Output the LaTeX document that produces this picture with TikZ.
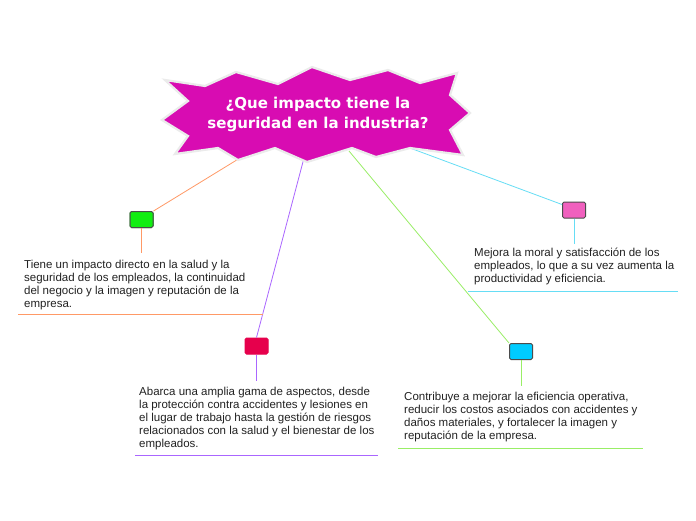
\documentclass[tikz,border=0pt]{standalone}
\usepackage{fontspec}
\setmainfont{Liberation Sans}
\newfontfamily\titlefont{DejaVu Sans}
\definecolor{starfill}{HTML}{D80CB2}
\definecolor{cOrange}{HTML}{FF9966}
\definecolor{cPurple}{HTML}{AA66FF}
\definecolor{cCyan}{HTML}{66DDF5}
\definecolor{cGreen}{HTML}{99EE66}
\definecolor{bGreen}{HTML}{11EE11}
\definecolor{bRed}{HTML}{E6004C}
\definecolor{bPink}{HTML}{F060BE}
\definecolor{bCyan}{HTML}{00CCFF}
\definecolor{txt}{HTML}{222222}
\begin{document}
\begin{tikzpicture}[x=1pt,y=-1pt,
  conn/.style={line width=0.8pt},
  uline/.style={line width=1pt},
  topicbox/.style={draw=#1!60!black, line width=1pt, rounded corners=1.5pt, minimum width=23pt, minimum height=16pt, inner sep=0pt},
  desc/.style={anchor=north west, inner sep=0pt, align=left, text=txt, font=\fontsize{11.5}{13}\selectfont},
  starshape/.style={fill=starfill, draw=black!8, line width=2.2pt, line join=miter}
]
\fill[white] (0,0) rectangle (696,520);
\useasboundingbox (0,0) rectangle (696,520);

% star edge coordinates
\coordinate (sO) at (240,158);
\coordinate (sP) at (304,158);
\coordinate (sG) at (349,151);
\coordinate (sC) at (410,148);

% topic boxes
\node[topicbox=bGreen, fill=bGreen] (gbox) at (141.5,219.5) {};
\node[topicbox=bRed, fill=bRed, draw=bRed] (rbox) at (256.5,346) {};
\node[topicbox=bPink, fill=bPink, draw=black!70] (pbox) at (574,210) {};
\node[topicbox=bCyan, fill=bCyan, draw=black!70] (cbox) at (521,351.5) {};
\node[topicbox=bGreen, fill=bGreen, draw=black!70] at (gbox) {};

% descriptions
\node[desc] (tO) at (24,259.5) {Tiene un impacto directo en la salud y la\\seguridad de los empleados, la continuidad\\del negocio y la imagen y reputación de la\\empresa.};
\node[desc] (tP) at (139,386.5) {Abarca una amplia gama de aspectos, desde\\la protección contra accidentes y lesiones en\\el lugar de trabajo hasta la gestión de riesgos\\relacionados con la salud y el bienestar de los\\empleados.};
\node[desc] (tC) at (474,248) {Mejora la moral y satisfacción de los\\empleados, lo que a su vez aumenta la\\productividad y eficiencia.};
\node[desc] (tG) at (404,391.5) {Contribuye a mejorar la eficiencia operativa,\\reducir los costos asociados con accidentes y\\daños materiales, y fortalecer la imagen y\\reputación de la empresa.};

% line ends
\coordinate (vO) at (141.5,253);
\coordinate (vP) at (256.5,381);
\coordinate (vC) at (574,244);
\coordinate (vG) at (521,386);
\coordinate (uOa) at (18,314);  \coordinate (uOb) at (263,314);
\coordinate (uPa) at (135,455); \coordinate (uPb) at (378,455);
\coordinate (uCa) at (468,291); \coordinate (uCb) at (678,291);
\coordinate (uGa) at (398,448); \coordinate (uGb) at (643,448);

% connectors
\draw[conn, cOrange] (sO) -- (gbox.north east);
\draw[conn, cPurple] (sP) -- (rbox.north);
\draw[conn, cGreen] (sG) -- (cbox.north west);
\draw[conn, cCyan] (sC) -- ([yshift=-3pt]pbox.north west);
\draw[conn, cOrange] (gbox.south) -- (vO);
\draw[conn, cPurple] (rbox.south) -- (vP);
\draw[conn, cCyan] (pbox.south) -- (vC);
\draw[conn, cGreen] (cbox.south) -- (vG);
\draw[uline, cOrange] (uOa) -- (uOb);
\draw[uline, cPurple] (uPa) -- (uPb);
\draw[uline, cCyan] (uCa) -- (uCb);
\draw[uline, cGreen] (uGa) -- (uGb);

% central star
\draw[starshape] (165,80) -- (205,86) -- (236,72) -- (278,84) -- (312,67) -- (350,80) -- (388,70) -- (420,83) -- (457,73) -- (450,95) -- (470,113) -- (450,130) -- (463,155) -- (410,148) -- (376,157) -- (352,148) -- (307,162) -- (275,148) -- (238,160) -- (218,148) -- (175,154) -- (188,136) -- (162,120) -- (188,101) -- cycle;
\node[text=white, align=center, inner sep=0pt, font=\titlefont\bfseries\fontsize{15}{20}\selectfont] (title) at (318,114) {¿Que impacto tiene la\\seguridad en la industria?};
\end{tikzpicture}
\end{document}
